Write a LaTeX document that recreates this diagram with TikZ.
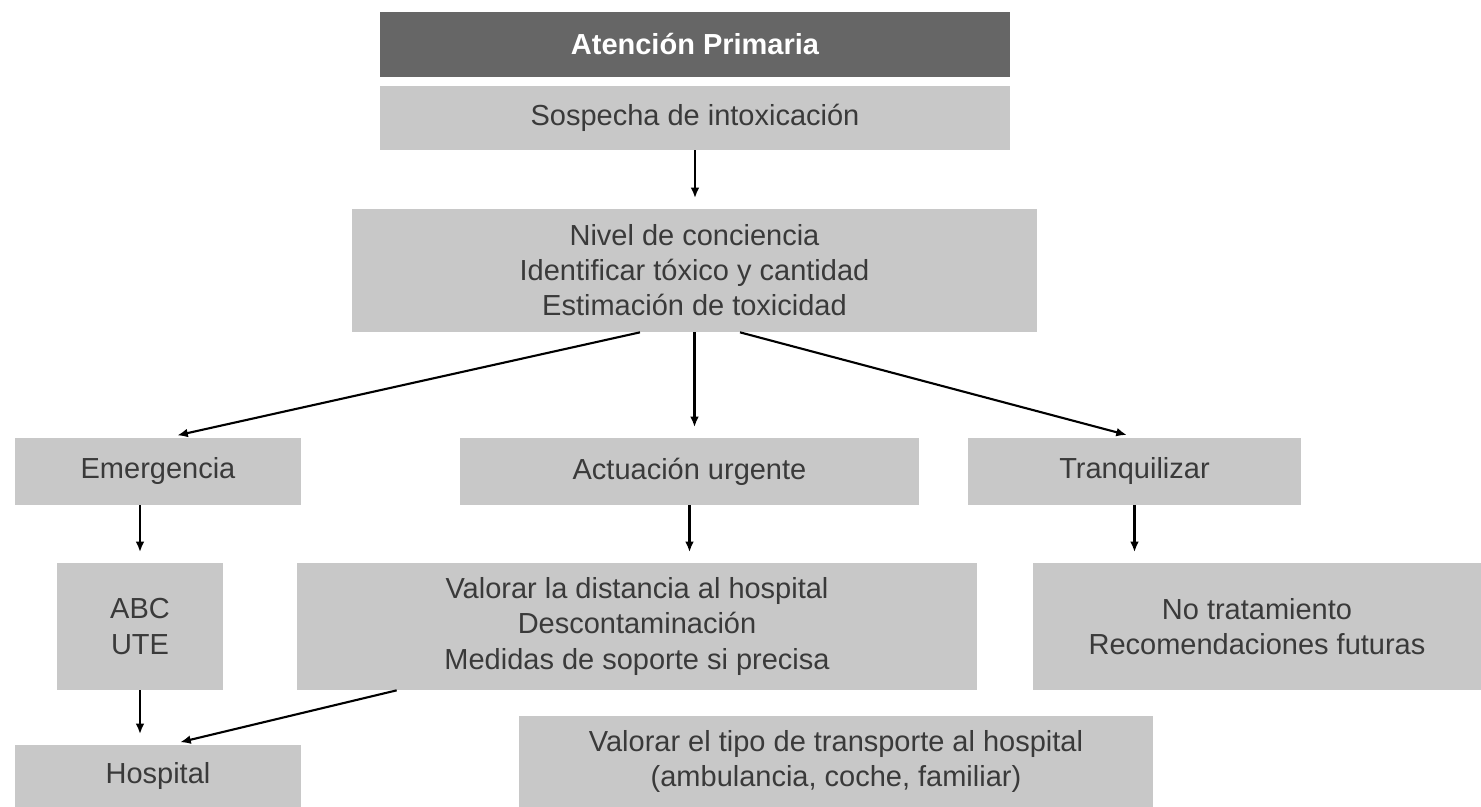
\documentclass[tikz,border=0pt]{standalone}
\usepackage{fontspec}
\setmainfont{Liberation Sans}
\usepackage{xcolor}
\usetikzlibrary{arrows.meta}
\definecolor{cajagris}{HTML}{C8C8C8}
\definecolor{cajaoscura}{HTML}{666666}
\definecolor{texto}{HTML}{3A3A3A}
\begin{document}
\begin{tikzpicture}[>={Latex[length=6pt,width=5pt]},x=0.02cm,y=-0.02cm,
    caja/.style={fill=cajagris,text=texto,align=center,inner sep=0pt,
      font=\fontsize{16.5}{20}\selectfont},
    flecha/.style={->,line width=1.2pt,shorten >=6pt}]
          \useasboundingbox (0,0) rectangle (1481,807);
          \node[caja,fill=cajaoscura,text=white,font=\fontsize{16.5}{20}\selectfont\bfseries,
            minimum width=12.6cm,minimum height=1.3cm] (prim) at (695,44.5) {Atención Primaria};
          \node[caja,minimum width=12.6cm,minimum height=1.28cm] (sosp) at (695,118) {Sospecha de intoxicación};
          \node[caja,minimum width=13.7cm,minimum height=2.46cm] (nivel) at (694.5,270.5)
            {Nivel de conciencia\\Identificar tóxico y cantidad\\Estimación de toxicidad};
          \node[caja,minimum width=5.72cm,minimum height=1.34cm] (emerg) at (158,471.5) {Emergencia};
          \node[caja,minimum width=9.18cm,minimum height=1.34cm] (actua) at (689.5,471.5) {Actuación urgente};
          \node[caja,minimum width=6.66cm,minimum height=1.34cm] (tranq) at (1134.5,471.5) {Tranquilizar};
          \node[caja,minimum width=3.32cm,minimum height=2.54cm] (abc) at (140,626.5) {ABC\\UTE};
          \node[caja,minimum width=13.6cm,minimum height=2.54cm] (valor) at (637,626.5)
            {Valorar la distancia al hospital\\Descontaminación\\Medidas de soporte si precisa};
          \node[caja,minimum width=8.96cm,minimum height=2.54cm] (notrat) at (1257,626.5)
            {No tratamiento\\Recomendaciones futuras};
          \node[caja,minimum width=5.72cm,minimum height=1.24cm] (hosp) at (158,776) {Hospital};
          \node[caja,minimum width=12.68cm,minimum height=1.82cm] (tipo) at (836,761.5)
            {Valorar el tipo de transporte al hospital\\(ambulancia, coche, familiar)};
          % flechas
          \draw[flecha] (sosp.south) -- (sosp.south |- nivel.north);
          \draw[flecha] ([xshift=-1.09cm]nivel.south) -- ([xshift=0.18cm]emerg.north);
          \draw[flecha] (nivel.south) -- (nivel.south |- actua.north);
          \draw[flecha] ([xshift=0.91cm]nivel.south) -- ([xshift=0.05cm]tranq.north);
          \draw[flecha] (emerg.south -| abc.north) -- (abc.north);
          \draw[flecha] (actua.south) -- (actua.south |- valor.north);
          \draw[flecha] (tranq.south) -- (tranq.south |- notrat.north);
          \draw[flecha] (abc.south) -- (abc.south |- hosp.north);
          \draw[flecha] ([xshift=2cm]valor.south west) -- ([xshift=0.24cm]hosp.north);
        \end{tikzpicture}
\end{document}
